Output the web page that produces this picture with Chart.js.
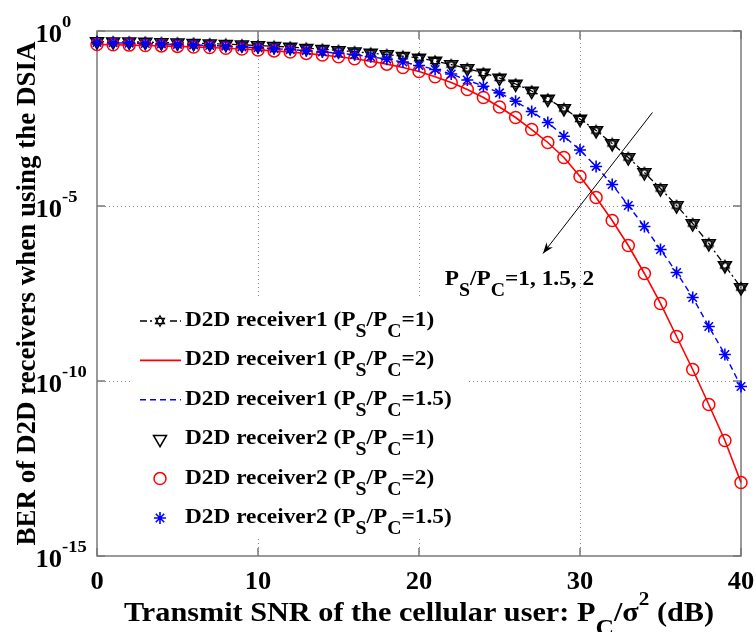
<!DOCTYPE html>
<html><head><meta charset="utf-8">
<script src="https://cdn.jsdelivr.net/npm/chart.js@4.4.1/dist/chart.umd.min.js"></script>
<style>html,body{margin:0;padding:0;background:#fff}canvas{display:block}</style>
</head><body>
<canvas id="c" width="756" height="632"></canvas>
<script>
// ---- data ----
const snr = [0,1,2,3,4,5,6,7,8,9,10,11,12,13,14,15,16,17,18,19,20,21,22,23,24,25,26,27,28,29,30,31,32,33,34,35,36,37,38,39,40];
const berRatio1 = [0.501,0.494,0.489,0.482,0.469,0.460,0.448,0.434,0.420,0.404,0.385,0.366,0.347,0.324,0.302,0.279,0.256,0.234,0.212,0.191,0.169,0.139,0.110,0.0849,0.0631,0.0454,0.0306,0.0193,0.0114,0.00611,0.00306,0.00144,6.11e-4,2.43e-4,9.06e-5,3.16e-5,1.03e-5,3.16e-6,8.49e-7,2.0e-7,4.68e-8];
const berRatio15 = [0.469,0.460,0.451,0.440,0.428,0.414,0.401,0.385,0.368,0.351,0.333,0.314,0.294,0.274,0.253,0.231,0.209,0.183,0.157,0.130,0.103,0.0794,0.0591,0.0398,0.0265,0.0171,0.00987,0.00501,0.00243,9.87e-4,3.98e-4,1.35e-4,4.11e-5,1.03e-5,2.6e-6,5.72e-7,1.26e-7,2.43e-8,3.61e-9,5.71e-10,6.97e-11];
const berRatio2 = [0.411,0.404,0.395,0.385,0.375,0.363,0.351,0.338,0.323,0.306,0.288,0.270,0.251,0.229,0.207,0.184,0.161,0.137,0.113,0.0906,0.0697,0.0491,0.0338,0.0213,0.0126,0.00674,0.00338,0.00153,6.52e-4,2.43e-4,6.97e-5,1.75e-5,3.85e-6,7.43e-7,1.18e-7,1.64e-8,1.87e-9,2.13e-10,2.13e-11,2.0e-12,1.26e-13];
const xTickValues = [0,10,20,30,40];
const xTickLabels = ['0','10','20','30','40'];
const yTickValues = [1,1e-5,1e-10,1e-15];
const yTickLabels = ['10^{0}','10^{-5}','10^{-10}','10^{-15}'];
const seriesLabels = [
  'D2D receiver1 (P_S/P_C=1)',
  'D2D receiver1 (P_S/P_C=2)',
  'D2D receiver1 (P_S/P_C=1.5)',
  'D2D receiver2 (P_S/P_C=1)',
  'D2D receiver2 (P_S/P_C=2)',
  'D2D receiver2 (P_S/P_C=1.5)'
];
const xTitle = 'Transmit SNR of the cellular user: P_C/σ^2 (dB)';
const yTitle = 'BER of D2D receivers when using the DSIA';
const annotationText = 'P_S/P_C=1, 1.5, 2';
const annotationAt = [21.6, 5.5e-8];
const arrowFrom = [34.5, 4.7e-3];
const arrowTo = [27.7, 4.4e-7];

// ---- styling ----
const FONT = '"Liberation Serif","Times New Roman",serif';
const SUB = {scale:0.85, dy:0.5};
const SUP = {scale:0.7, dy:-0.6};

function hexagram(){
  const c=document.createElement('canvas'); c.width=14; c.height=14;
  const g=c.getContext('2d'); g.strokeStyle='#000'; g.lineWidth=1.2;
  const cx=7, cy=7, r=5.2;
  for(const off of [-Math.PI/2, Math.PI/2]){
    g.beginPath();
    for(let k=0;k<3;k++){const a=off+k*2*Math.PI/3; const px=cx+r*Math.cos(a), py=cy+r*Math.sin(a); k?g.lineTo(px,py):g.moveTo(px,py);}
    g.closePath(); g.stroke();
  }
  return c;
}
const hexImg = hexagram();

function parseRich(s){
  const parts=[]; let i=0, buf='';
  while(i<s.length){
    const ch=s[i];
    if(ch==='_'||ch==='^'){
      if(buf){parts.push({t:buf,m:0});buf='';}
      i++; let t;
      if(s[i]==='{'){const j=s.indexOf('}',i); t=s.slice(i+1,j); i=j+1;} else {t=s[i]; i++;}
      parts.push({t, m: ch==='_'?1:2});
    } else {buf+=ch;i++;}
  }
  if(buf)parts.push({t:buf,m:0});
  return parts;
}
function partSize(p,size){return p.m===0?size:(p.m===1?size*SUB.scale:size*SUP.scale);}
function partFont(p,size){return 'bold '+partSize(p,size)+'px '+FONT;}
function richWidth(ctx,parts,size){let w=0;for(const p of parts){ctx.font=partFont(p,size);w+=ctx.measureText(p.t).width;}return w;}
function drawRich(ctx,text,x,y,size,align,rot,sx){
  const parts=parseRich(text);
  ctx.save(); ctx.translate(x,y); if(rot)ctx.rotate(rot); ctx.scale(sx||1,1);
  const w=richWidth(ctx,parts,size);
  let cx = align==='center'?-w/2:(align==='right'?-w:0);
  ctx.textBaseline='alphabetic'; ctx.textAlign='left'; ctx.fillStyle='#000';
  for(const p of parts){
    ctx.font=partFont(p,size);
    const dy = p.m===1?SUB.dy*size:(p.m===2?SUP.dy*size:0);
    ctx.fillText(p.t,cx,dy); cx+=ctx.measureText(p.t).width;
  }
  ctx.restore();
}

const AXIS_COLOR='#7a7a7a';
const GRID_COLOR='#8a8a8a';
const TICK_SIZE=25, TICK_SX=1.06;
const LEG_SIZE=22, LEG_SX=1.06;

const matlabPlugin = {
  id:'matlab',
  beforeDatasetsDraw(chart){
    const ctx=chart.ctx, a=chart.chartArea, xs=chart.scales.x, ys=chart.scales.y;
    ctx.save();
    ctx.strokeStyle=GRID_COLOR; ctx.lineWidth=1; ctx.setLineDash([1,3]);
    xTickValues.slice(1,-1).forEach(v=>{const px=Math.round(xs.getPixelForValue(v))+0.5; ctx.beginPath(); ctx.moveTo(px,a.top); ctx.lineTo(px,a.bottom); ctx.stroke();});
    yTickValues.slice(1,-1).forEach(v=>{const py=Math.round(ys.getPixelForValue(v))+0.5; ctx.beginPath(); ctx.moveTo(a.left,py); ctx.lineTo(a.right,py); ctx.stroke();});
    ctx.setLineDash([]);
    ctx.strokeStyle=AXIS_COLOR; ctx.lineWidth=1.5;
    ctx.strokeRect(a.left,a.top,a.right-a.left,a.bottom-a.top);
    const tl=8;
    xTickValues.forEach(v=>{const px=xs.getPixelForValue(v); ctx.beginPath(); ctx.moveTo(px,a.bottom); ctx.lineTo(px,a.bottom-tl); ctx.moveTo(px,a.top); ctx.lineTo(px,a.top+tl); ctx.stroke();});
    yTickValues.forEach(v=>{const py=ys.getPixelForValue(v); ctx.beginPath(); ctx.moveTo(a.left,py); ctx.lineTo(a.left+tl,py); ctx.moveTo(a.right,py); ctx.lineTo(a.right-tl,py); ctx.stroke();});
    ctx.restore();
  },
  afterDraw(chart){
    const ctx=chart.ctx, a=chart.chartArea, xs=chart.scales.x, ys=chart.scales.y;
    // tick labels
    xTickValues.forEach((v,i)=>drawRich(ctx,xTickLabels[i],xs.getPixelForValue(v),589,TICK_SIZE,'center',0,TICK_SX));
    yTickValues.forEach((v,i)=>{
      const parts=parseRich(yTickLabels[i]);
      ctx.font=partFont(parts[0],TICK_SIZE); const w0=ctx.measureText(parts[0].t).width*TICK_SX;
      drawRich(ctx,yTickLabels[i],62-w0,ys.getPixelForValue(v)+11,TICK_SIZE,'left',0,TICK_SX);
    });
    // axis titles
    drawRich(ctx,xTitle,(a.left+a.right)/2,621,27,'center',0,1.12);
    drawRich(ctx,yTitle,35,(a.top+a.bottom)/2,27,'center',-Math.PI/2,1);
    // annotation + arrow
    drawRich(ctx,annotationText,xs.getPixelForValue(annotationAt[0]),ys.getPixelForValue(annotationAt[1]),LEG_SIZE,'left',0,LEG_SX);
    const x1=xs.getPixelForValue(arrowFrom[0]), y1=ys.getPixelForValue(arrowFrom[1]);
    const x2=xs.getPixelForValue(arrowTo[0]), y2=ys.getPixelForValue(arrowTo[1]);
    ctx.save(); ctx.strokeStyle='#000'; ctx.fillStyle='#000'; ctx.lineWidth=1;
    ctx.beginPath(); ctx.moveTo(x1,y1); ctx.lineTo(x2,y2); ctx.stroke();
    const ang=Math.atan2(y2-y1,x2-x1), L=11, W=4;
    ctx.beginPath(); ctx.moveTo(x2,y2);
    ctx.lineTo(x2-L*Math.cos(ang)+W*Math.sin(ang), y2-L*Math.sin(ang)-W*Math.cos(ang));
    ctx.lineTo(x2-0.7*L*Math.cos(ang), y2-0.7*L*Math.sin(ang));
    ctx.lineTo(x2-L*Math.cos(ang)-W*Math.sin(ang), y2-L*Math.sin(ang)+W*Math.cos(ang));
    ctx.closePath(); ctx.fill();
    ctx.restore();
    // legend
    ctx.save();
    ctx.fillStyle='#fff'; ctx.fillRect(131,298,335,238);
    const ds=chart.data.datasets;
    seriesLabels.forEach((lab,i)=>{
      const base=326+39.4*i, my=base-5;
      const d=ds[i];
      if(d.showLine!==false){
        ctx.strokeStyle=d.borderColor; ctx.lineWidth=d.borderWidth; ctx.setLineDash(d.borderDash||[]);
        ctx.beginPath(); ctx.moveTo(140,my); ctx.lineTo(181,my); ctx.stroke(); ctx.setLineDash([]);
      }
      if(d.pointRadius>0){
        if(d.pointStyle===hexImg){ctx.fillStyle='#fff'; ctx.fillRect(153,my-6,14,12); ctx.drawImage(hexImg,160-7,my-7);}
        else {ctx.strokeStyle=d.pointBorderColor; ctx.fillStyle='rgba(0,0,0,0)'; ctx.lineWidth=d.pointBorderWidth; Chart.helpers.drawPoint(ctx,{pointStyle:d.pointStyle,rotation:d.pointRotation||0,radius:d.pointRadius,borderWidth:d.pointBorderWidth},160,my);}
      }
      drawRich(ctx,lab,185,base,LEG_SIZE,'left',0,LEG_SX);
    });
    ctx.restore();
  }
};

function pts(arr){return snr.map((x,i)=>({x,y:arr[i]}));}
const datasets=[
  {label:seriesLabels[0],data:pts(berRatio1),borderColor:'#000',borderWidth:1.3,borderDash:[7,3,2,3],pointStyle:hexImg,pointRadius:5,pointBorderColor:'#000',pointBorderWidth:1,order:6},
  {label:seriesLabels[1],data:pts(berRatio2),borderColor:'#ff0000',borderWidth:1.6,pointRadius:0,order:5},
  {label:seriesLabels[2],data:pts(berRatio15),borderColor:'#0000ff',borderWidth:1.4,borderDash:[6,4],pointRadius:0,order:4},
  {label:seriesLabels[3],data:pts(berRatio1),showLine:false,borderColor:'#000',pointStyle:'triangle',pointRotation:180,pointRadius:7.5,pointBorderColor:'#000',pointBackgroundColor:'rgba(0,0,0,0)',pointBorderWidth:1.5,order:3},
  {label:seriesLabels[4],data:pts(berRatio2),showLine:false,borderColor:'#ff0000',pointStyle:'circle',pointRadius:6,pointBorderColor:'#ff0000',pointBackgroundColor:'rgba(0,0,0,0)',pointBorderWidth:1.5,order:2},
  {label:seriesLabels[5],data:pts(berRatio15),showLine:false,borderColor:'#0000ff',pointStyle:'star',pointRadius:6,pointBorderColor:'#0000ff',pointBackgroundColor:'rgba(0,0,0,0)',pointBorderWidth:1.6,order:1}
].map(d=>Object.assign({clip:false,tension:0,fill:false,pointHoverRadius:d.pointRadius},d));

new Chart(document.getElementById('c'),{
  type:'line',
  data:{datasets},
  options:{
    responsive:false, animation:false, events:[],
    layout:{padding:{top:31,right:15,left:0,bottom:0}},
    plugins:{legend:{display:false},tooltip:{enabled:false}},
    scales:{
      x:{type:'linear',min:0,max:40,ticks:{display:false},grid:{display:false},border:{display:false},
         afterBuildTicks(s){s.ticks=xTickValues.map(v=>({value:v}));}, afterFit(s){s.height=76;}},
      y:{type:'logarithmic',min:1e-15,max:1,ticks:{display:false},grid:{display:false},border:{display:false},
         afterBuildTicks(s){s.ticks=yTickValues.map(v=>({value:v}));}, afterFit(s){s.width=97;}}
    }
  },
  plugins:[matlabPlugin]
});
</script>
</body></html>
